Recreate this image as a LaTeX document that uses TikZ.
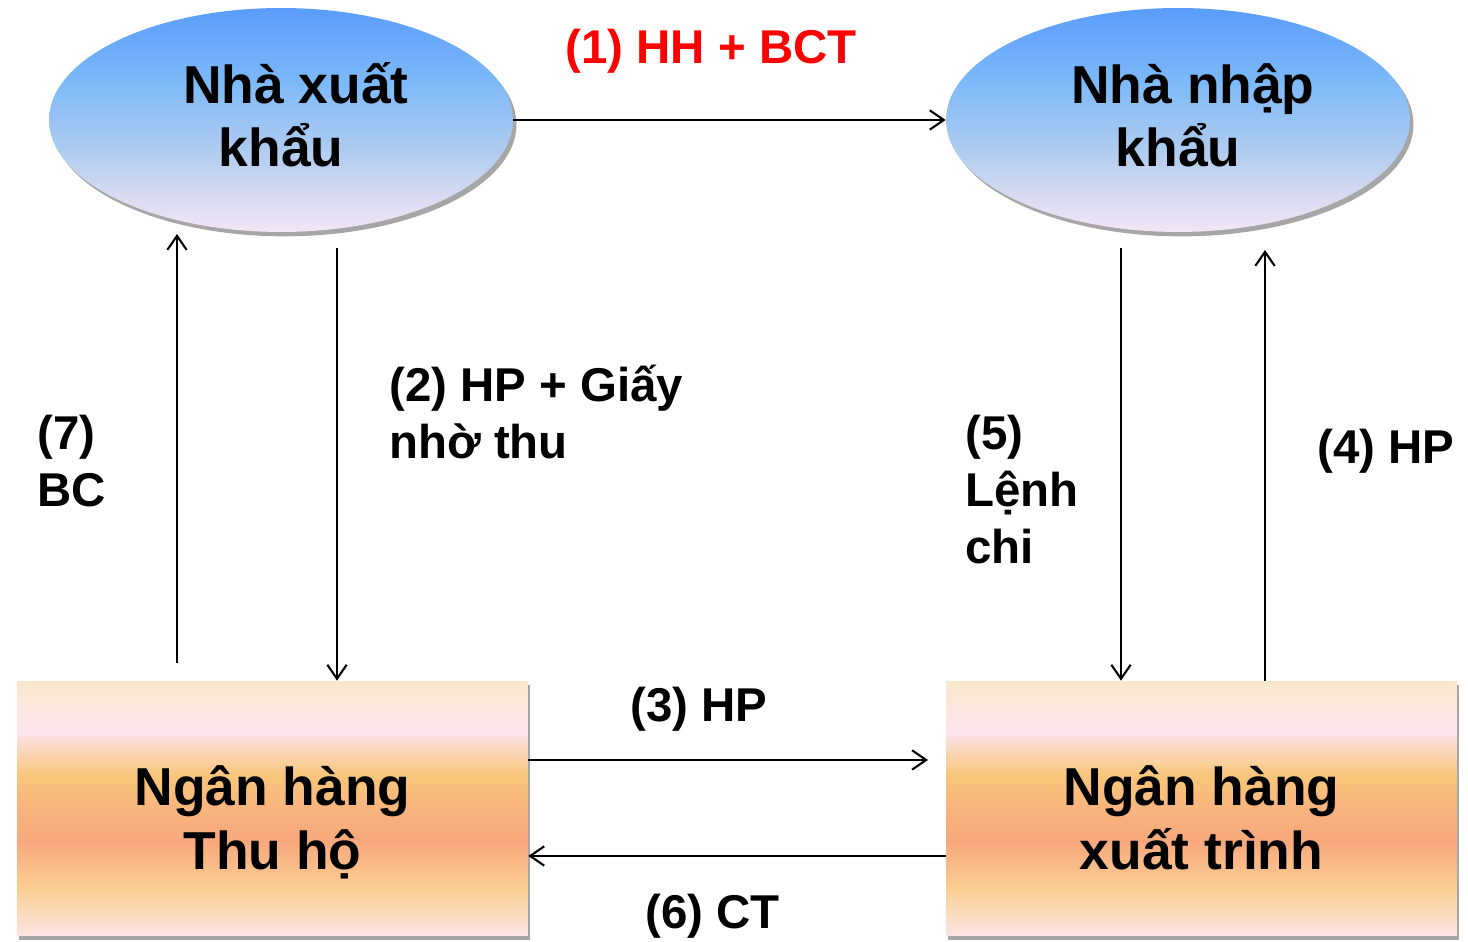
\documentclass[tikz,border=0pt]{standalone}
\usepackage{fontspec}
\setmainfont{Liberation Sans}
\usetikzlibrary{arrows.meta,shapes.geometric,shadows}
\definecolor{elA}{HTML}{5A9CFB}
\definecolor{elA2}{HTML}{7EBAF8}
\definecolor{elB}{HTML}{B0CCF0}
\definecolor{elB2}{HTML}{DCDCF0}
\definecolor{elC}{HTML}{F4E6F6}
\definecolor{rA}{HTML}{FAE8CC}
\definecolor{rB}{HTML}{FCE4EE}
\definecolor{rC}{HTML}{F8C67A}
\definecolor{rDm}{HTML}{F8B47E}
\definecolor{rD}{HTML}{F8A87C}
\definecolor{rE}{HTML}{FAD094}
\definecolor{rF}{HTML}{FBE6E6}
\definecolor{lblred}{HTML}{FF0000}
\pgfdeclareverticalshading{ellshade}{100bp}{color(0bp)=(elC); color(25bp)=(elC); color(32bp)=(elB2); color(43bp)=(elB); color(58bp)=(elA2); color(75bp)=(elA); color(100bp)=(elA)}
\pgfdeclareverticalshading{rectshade}{100bp}{color(0bp)=(rF); color(25bp)=(rF); color(34bp)=(rE); color(43.5bp)=(rD); color(50bp)=(rDm); color(56.5bp)=(rC); color(65bp)=(rB); color(75bp)=(rA); color(100bp)=(rA)}
\newcommand{\twolines}[2]{\begin{tabular}[t]{@{}c@{}}\smash{#1}\\\smash{#2}\end{tabular}}
\tikzset{
  x=0.02cm, y=0.02cm,
  mainfont/.style={font=\fontsize{30.4}{36}\selectfont\bfseries},
  lblfont/.style={font=\fontsize{27}{32.4}\selectfont\bfseries},
  party/.style={ellipse, minimum width=9.28cm, minimum height=4.48cm, inner sep=0pt,
    shading=ellshade, draw=none, mainfont, text height=20pt, text depth=39.3pt,
    drop shadow={shadow xshift=2pt, shadow yshift=-2.5pt, opacity=0.35, fill=black}},
  bank/.style={rectangle, minimum width=10.22cm, minimum height=5.1cm, inner sep=0pt,
    shading=rectshade, draw=none, mainfont, text height=30pt, text depth=32.9pt,
    drop shadow={shadow xshift=1pt, shadow yshift=-2.5pt, opacity=0.35, fill=black}},
  lbl/.style={anchor=base west, inner sep=0pt, lblfont},
  arr/.style={line width=1.2pt, -{Straight Barb[length=8pt,width=11pt]}},
}
\begin{document}
\begin{tikzpicture}
\useasboundingbox (0,0) rectangle (1468,942);
% parties
\node[party] (exp) at (281,822) {\twolines{\hspace*{0.6cm}Nhà xuất}{khẩu}};
\node[party] (imp) at (1178,822) {\twolines{\hspace*{0.6cm}Nhà nhập}{khẩu}};
% banks
\node[bank] (bankL) at (272.5,133.5) {\twolines{Ngân hàng}{Thu hộ}};
\node[bank] (bankR) at (1201.5,133.5) {\twolines{Ngân hàng}{xuất trình}};
% free ends
\coordinate (s2) at (337,694);
\coordinate (s7) at (177,279);
\coordinate (e7) at (177,708);
\coordinate (y3) at (0,182);
\coordinate (e3) at (928,182);
\coordinate (y6) at (0,86);
\coordinate (s5) at (1121,694);
\coordinate (e4) at (1265,692);
% connectors
\draw[arr] (exp.east) -- (imp.west);
\draw[arr] (s2) -- (s2 |- bankL.north);
\draw[arr] (s7) -- (e7);
\draw[arr] (bankL.east |- y3) -- (e3);
\draw[arr] (bankR.west |- y6) -- (bankL.east |- y6);
\draw[arr] (s5) -- (s5 |- bankR.north);
\draw[arr] (e4 |- bankR.north) -- (e4);
% labels
\node[lblfont, text=lblred, anchor=base, inner sep=0pt] (t1) at (711,878) {(1) HH + BCT};
\node[lbl] (t2) at (389,540) {\begin{tabular}[t]{@{}l@{}}(2) HP + Giấy\\nhờ thu\end{tabular}};
\node[lbl] (t7) at (37,492) {\begin{tabular}[t]{@{}l@{}}(7)\\BC\end{tabular}};
\node[lbl] (t5) at (965,492) {\begin{tabular}[t]{@{}l@{}}(5)\\Lệnh\\chi\end{tabular}};
\node[lbl] (t4) at (1317,478) {(4) HP};
\node[lbl] (t3) at (630,220) {(3) HP};
\node[lbl] (t6) at (645,13) {(6) CT};
\end{tikzpicture}
\end{document}
